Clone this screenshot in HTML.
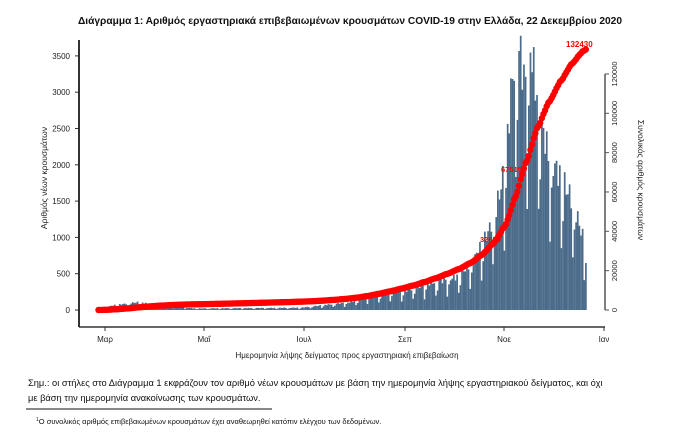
<!DOCTYPE html>
<html><head><meta charset="utf-8"><style>
body{margin:0;background:#fff;width:695px;height:443px;overflow:hidden;font-family:"Liberation Sans","DejaVu Sans",sans-serif}
</style></head><body>
<svg id="s" width="695" height="443" xmlns="http://www.w3.org/2000/svg" font-family="Liberation Sans, DejaVu Sans, sans-serif">
<text x="350" y="24" text-anchor="middle" font-size="10.2" font-weight="bold" fill="#111">Διάγραμμα 1: Αριθμός εργαστηριακά επιβεβαιωμένων κρουσμάτων COVID-19 στην Ελλάδα, 22 Δεκεμβρίου 2020</text>
<g id="bars" fill="#4b6b8a"></g>
<g id="pts" fill="#ff0000"></g>
<line x1="79" y1="40" x2="79" y2="327" stroke="#333" stroke-width="2"/>
<line x1="79" y1="327" x2="605" y2="327" stroke="#333" stroke-width="1.5"/>
<line x1="605" y1="74" x2="605" y2="310" stroke="#555" stroke-width="1.5"/>
<g id="axes" font-size="8" fill="#222"></g>
<text transform="translate(47,178) rotate(-90)" text-anchor="middle" font-size="8.5" fill="#222">Αριθμός νέων κρουσμάτων</text>
<text transform="translate(638,180) rotate(90)" text-anchor="middle" font-size="8.5" fill="#222">Συνολικός αριθμός κρουσμάτων</text>
<text x="566" y="47" font-size="8" font-weight="bold" fill="#ff0000">132430</text>
<text x="501" y="172" font-size="7.5" font-weight="bold" fill="#ff0000">67515</text>
<text x="480" y="242" font-size="7.5" font-weight="bold" fill="#ff0000">32650</text>
<text x="347" y="358" text-anchor="middle" font-size="8" fill="#222">Ημερομηνία λήψης δείγματος προς εργαστηριακή επιβεβαίωση</text>
<text x="28" y="386" font-size="9.3" fill="#111">Σημ.: οι στήλες στο Διάγραμμα 1 εκφράζουν τον αριθμό νέων κρουσμάτων με βάση την ημερομηνία λήψης εργαστηριακού δείγματος, και όχι</text>
<text x="28" y="401" font-size="9.3" fill="#111">με βάση την ημερομηνία ανακοίνωσης των κρουσμάτων.</text>
<line x1="26" y1="409" x2="272" y2="409" stroke="#111" stroke-width="1"/>
<text x="36" y="424" font-size="7.5" fill="#111"><tspan font-size="5" dy="-3">1</tspan><tspan dy="3">Ο συνολικός αριθμός επιβεβαιωμένων κρουσμάτων έχει αναθεωρηθεί κατόπιν ελέγχου των δεδομένων.</tspan></text>
</svg>
<script>
var NS="http://www.w3.org/2000/svg";
function el(p,t,a,txt){var e=document.createElementNS(NS,t);for(var k in a)e.setAttribute(k,a[k]);if(txt!=null)e.textContent=txt;document.getElementById(p).appendChild(e);return e;}
for(var v=0;v<=3500;v+=500){var y=310-v*0.0726;el('axes','line',{x1:75,y1:y,x2:79,y2:y,stroke:'#333'});el('axes','text',{x:70,y:y+3,'text-anchor':'end'},v);}
for(var v=0;v<=120000;v+=20000){var y=310-v*0.001967;el('axes','line',{x1:605,y1:y,x2:609,y2:y,stroke:'#555'});el('axes','text',{transform:'translate(617,'+y+') rotate(-90)','text-anchor':'middle','font-size':7.5},v);}
var mons=[['Μαρ',105],['Μαΐ',204],['Ιουλ',304],['Σεπ',405],['Νοε',504],['Ιαν',604]];
mons.forEach(function(m){el('axes','line',{x1:m[1],y1:327,x2:m[1],y2:331,stroke:'#333'});el('axes','text',{x:m[1],y:342,'text-anchor':'middle'},m[0]);});
var keys=[[-4,10],[5,60],[20,100],[35,60],[55,20],[120,30],[150,100],[165,200],[185,260],[200,350],[215,420],[225,600],[235,1000],[240,1300],[245,1800],[250,3000],[253,3500],[258,2900],[261,3400],[266,2600],[272,2000],[280,1700],[287,1400],[293,950],[296,750]];
function base(d){for(var i=0;i<keys.length-1;i++){if(d>=keys[i][0]&&d<=keys[i+1][0]){var f=(d-keys[i][0])/(keys[i+1][0]-keys[i][0]);return keys[i][1]+f*(keys[i+1][1]-keys[i][1]);}}return keys[keys.length-1][1];}
var vals=[],cum=0,cums=[];
for(var d=-4;d<=295;d++){var b=base(d);var w=((d+7)%7);var m=w==0?0.5:(w==1?0.8:1.07);var r=1+0.1*Math.sin(d*2.3);var v=b*m*r;vals.push([d,v]);cum+=v;cums.push([d,cum]);}
var sc=132430/cum;
vals.forEach(function(p){var x=105+p[0]*1.63;var h=p[1]*0.0726;el('bars','rect',{x:x-0.8,y:310-h,width:1.7,height:h});});
cums.forEach(function(p){var x=105+p[0]*1.63;var y=310-p[1]*sc*0.001967;el('pts','circle',{cx:x,cy:y,r:3.2});});
</script>
</body></html>
